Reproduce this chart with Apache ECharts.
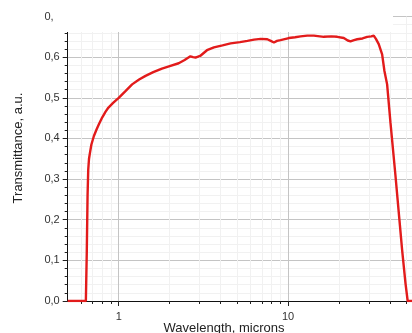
<!DOCTYPE html>
<html>
<head>
<meta charset="utf-8">
<script src="https://cdn.jsdelivr.net/npm/echarts@6/dist/echarts.min.js"></script>
<style>
html,body{margin:0;padding:0;background:#fff;}
#c{width:412px;height:333px;}
</style>
</head>
<body>
<div id="c"></div>
<script>
// Wavelength (microns) and transmittance (a.u.)
var wavelength = [0.5, 0.64, 0.648, 0.655, 0.661, 0.668, 0.677, 0.69, 0.714, 0.74, 0.764, 0.80, 0.837, 0.87, 0.93, 1.0, 1.1, 1.2, 1.32, 1.44, 1.6, 1.8, 2.0, 2.26, 2.45, 2.65, 2.75, 2.84, 3.05, 3.32, 3.65, 4.1, 4.58, 5.2, 5.75, 6.3, 6.89, 7.54, 7.9, 8.25, 8.6, 9.03, 10.1, 11.0, 11.85, 12.98, 14.19, 16.26, 18.0, 19.5, 21.32, 22.5, 23.35, 24.5, 25.57, 27.5, 29.29, 31.0, 32.03, 33.0, 34.28, 35.9, 37.04, 38.42, 40.18, 43.0, 45.4, 47.1, 49.3, 50.8, 54, 100];
var transmittance = [0, 0, 0.12, 0.26, 0.323, 0.35, 0.365, 0.385, 0.406, 0.422, 0.435, 0.452, 0.466, 0.476, 0.488, 0.50, 0.517, 0.533, 0.545, 0.554, 0.563, 0.572, 0.578, 0.585, 0.593, 0.602, 0.600, 0.599, 0.604, 0.617, 0.624, 0.629, 0.634, 0.637, 0.640, 0.643, 0.645, 0.644, 0.640, 0.636, 0.640, 0.642, 0.647, 0.649, 0.651, 0.653, 0.653, 0.650, 0.651, 0.650, 0.647, 0.641, 0.639, 0.642, 0.644, 0.646, 0.650, 0.651, 0.653, 0.645, 0.632, 0.607, 0.566, 0.533, 0.44, 0.31, 0.20, 0.126, 0.044, 0, 0, 0];
var xMajorTicks = [1, 10];
var xAllTicks = [0.6, 0.7, 0.8, 0.9, 1, 2, 3, 4, 5, 6, 7, 8, 9, 10, 20, 30, 40, 50, 60, 70, 80, 90];
var xLabels = [1, 10];
var yTicks = [0, 0.1, 0.2, 0.3, 0.4, 0.5, 0.6, 0.7];
var xTitle = 'Wavelength, microns';
var yTitle = 'Transmittance, a.u.';

var chart = echarts.init(document.getElementById('c'), null, {renderer: 'canvas'});
var data = wavelength.map(function (w, i) { return [w, transmittance[i]]; });
var FONT = 'Liberation Sans, Arial, sans-serif';

chart.setOption({
  animation: false,
  backgroundColor: '#fff',
  grid: {left: 67.7, right: -45.5, top: 16.5, bottom: 32, outerBoundsMode: 'none', containLabel: false},
  xAxis: [{
    type: 'log', logBase: 10, min: 0.5, max: 100, position: 'bottom',
    axisLine: {show: true, onZero: false, lineStyle: {color: '#111', width: 1}},
    axisTick: {show: true, customValues: xAllTicks, length: 3, lineStyle: {color: '#222'}},
    axisLabel: {show: true, customValues: xLabels, margin: 10, color: '#333', fontSize: 11, fontFamily: FONT},
    splitLine: {show: true, lineStyle: {color: '#f1f1f1', width: 1}},
    minorTick: {show: false}, minorSplitLine: {show: false}
  }, {
    type: 'log', logBase: 10, min: 0.5, max: 100, position: 'bottom',
    axisLine: {show: false, onZero: false},
    axisTick: {show: true, customValues: xMajorTicks, length: 5, lineStyle: {color: '#222'}},
    axisLabel: {show: false},
    splitLine: {show: true, lineStyle: {color: '#c4c4c4', width: 1}}
  }],
  yAxis: {
    type: 'value', min: 0, max: 0.7, interval: 0.1,
    axisLine: {show: true, lineStyle: {color: '#111', width: 1}},
    axisTick: {show: true, length: 5, lineStyle: {color: '#222'}},
    minorTick: {show: true, splitNumber: 5, length: 3, lineStyle: {color: '#222'}},
    minorSplitLine: {show: true, lineStyle: {color: '#f1f1f1'}},
    splitLine: {show: true, lineStyle: {color: '#c4c4c4', width: 1}},
    axisLabel: {
      margin: 8, color: '#333', fontSize: 11, fontFamily: FONT,
      formatter: function (v) { return v.toFixed(1).replace('.', ','); }
    }
  },
  series: [{
    type: 'line', data: data, xAxisIndex: 0, showSymbol: false, symbol: 'none',
    lineStyle: {color: '#e21b1b', width: 2.4}, z: 5, clip: true
  }],
  graphic: [
    {type: 'rect', shape: {x: 54, y: 0, width: 339, height: 32}, style: {fill: '#fff'}, z: 100},
    {type: 'text', x: 224, y: 328, style: {text: xTitle, fontSize: 13, fontFamily: FONT, fill: '#222', align: 'center', verticalAlign: 'middle'}, z: 100},
    {type: 'text', x: 18, y: 148, rotation: Math.PI / 2, style: {text: yTitle, fontSize: 13, fontFamily: FONT, fill: '#222', align: 'center', verticalAlign: 'middle'}, z: 100}
  ]
});
</script>
</body>
</html>
